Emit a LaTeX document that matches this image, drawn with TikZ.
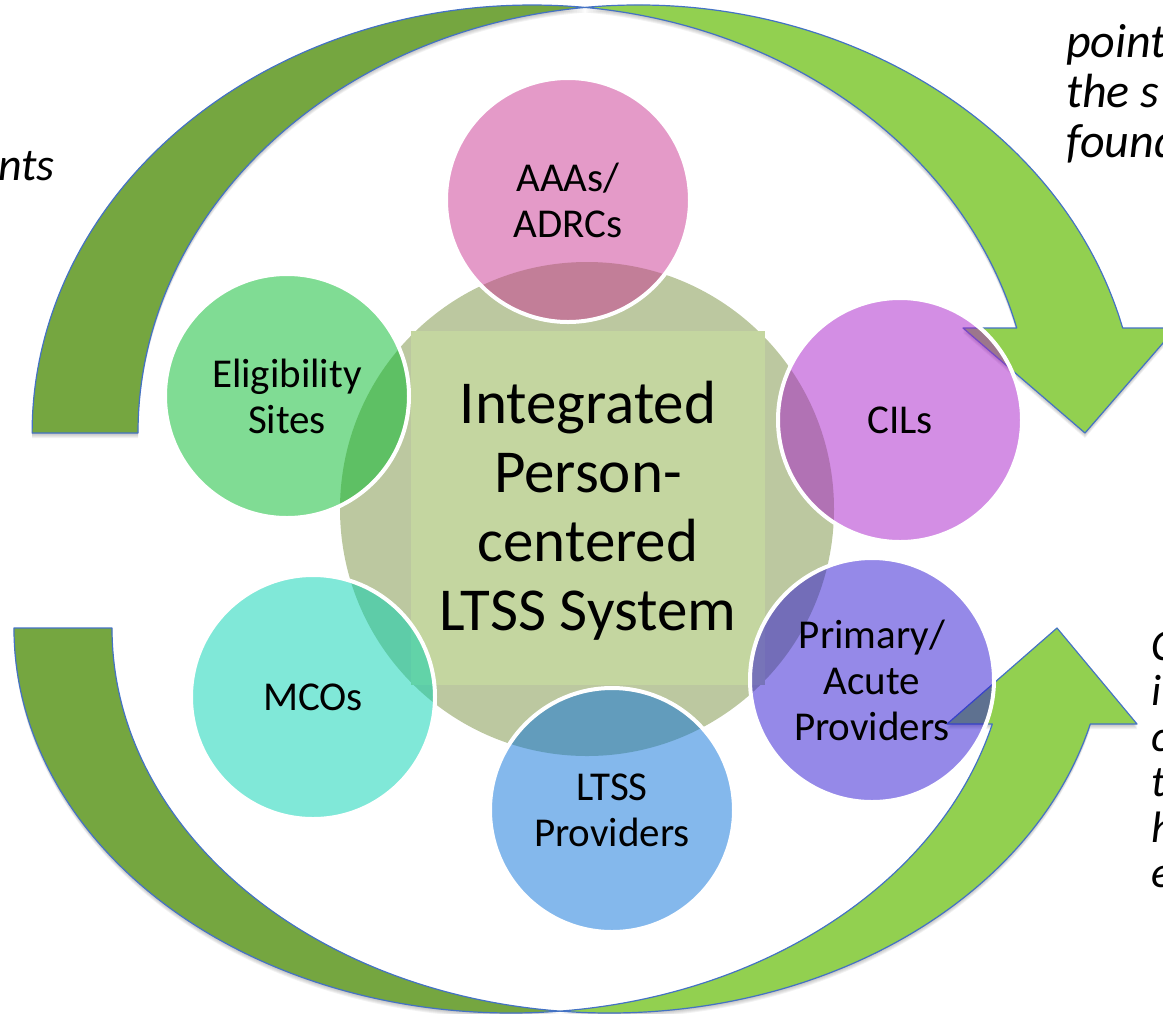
\documentclass[tikz,border=0pt]{standalone}
\usepackage{fontspec}
\setmainfont{Carlito}
\definecolor{armlight}{RGB}{146,208,80}
\definecolor{armdark}{RGB}{117,166,64}
\definecolor{armline}{RGB}{68,114,196}
\definecolor{hubcircle}{RGB}{188,200,160}
\definecolor{hubsquare}{RGB}{196,214,160}
\definecolor{cAAA}{RGB}{201,53,145}
\definecolor{cCIL}{RGB}{167,29,201}
\definecolor{cPRI}{RGB}{43,19,209}
\definecolor{cLTS}{RGB}{9,113,217}
\definecolor{cMCO}{RGB}{1,209,177}
\definecolor{cELI}{RGB}{1,185,41}
\begin{document}
\begin{tikzpicture}[x=1pt,y=-1pt,
  topdark/.style={insert path={(138,433) arc[start angle=180,end angle=263.92,x radius=500,y radius=428]
      arc[start angle=276.08,end angle=180,x radius=500,y radius=428] -- cycle}},
  toplight/.style={insert path={(585,7.4) arc[start angle=263.92,end angle=345.8,x radius=500,y radius=428]
      -- (1176,328) -- (1085,433) -- (963,328) -- (1016.7,328)
      arc[start angle=345.8,end angle=276.08,x radius=500,y radius=428] -- cycle}},
  botdark/.style={insert path={(112,628) arc[start angle=180,end angle=95.66,x radius=497,y radius=385]
      arc[start angle=84.34,end angle=180,x radius=497,y radius=385] -- cycle}},
  botlight/.style={insert path={(560,1011.1) arc[start angle=95.66,end angle=14.44,x radius=497,y radius=385]
      -- (1137,724) -- (1057,628) -- (947,724) -- (992.3,724)
      arc[start angle=14.44,end angle=84.34,x radius=497,y radius=385] -- cycle}},
  armedge/.style={draw=armline,line width=1.2pt,line join=round},
  shade/.style={fill=black,fill opacity=0.05},
  sat/.style={circle,minimum size=244pt,inner sep=0pt,draw=white,line width=4pt,
      fill opacity=0.5,text opacity=1,align=center,font=\fontsize{41}{46}\selectfont},
  side/.style={inner sep=0pt,align=left,font=\fontsize{48}{50}\selectfont\itshape}
]
\useasboundingbox (0,0) rectangle (1163,1013);
\clip (0,0) rectangle (1163,1013);
% shadows of the arrows
\foreach \k in {1,2,3,4,5}{
  \path[shade,shift={(0,\k)},toplight];
  \path[shade,shift={(0,\k)},topdark];
  \path[shade,shift={(0,\k)},botlight];
  \path[shade,shift={(0,\k)},botdark];
}
% arrows
\path[fill=armlight,armedge,toplight];
\path[fill=armdark,armedge,topdark];
\path[fill=armlight,armedge,botlight];
\path[fill=armdark,armedge,botdark];
% hub
\node[circle,minimum size=494pt,inner sep=0pt,fill=hubcircle] (hub) at (587,509) {};
\node[rectangle,minimum size=354pt,inner sep=0pt,fill=hubsquare] (core) at (588,508) {};
\node[align=center,inner sep=0pt,font=\fontsize{61}{69}\selectfont] (coretext) at (588,511)
      {Integrated\\Person-\\centered\\LTSS System};
% satellites
\node[sat,fill=cAAA] (aaa) at (568,200) {AAAs/\\ADRCs};
\node[sat,fill=cCIL] (cil) at (900,420) {CILs};
\node[sat,fill=cPRI] (pri) at (872,680) {Primary/\\Acute\\Providers};
\node[sat,fill=cLTS] (lts) at (612,810) {LTSS\\Providers};
\node[sat,fill=cMCO] (mco) at (313,697) {MCOs};
\node[sat,fill=cELI] (eli) at (287,396) {Eligibility\\Sites};
% side texts
\node[side,anchor=base east,font=\fontsize{46}{50}\selectfont\itshape] (lefttext) at (55,180) {nts};
\node[side,anchor=north west] (toptext) at (1066,22) {\strut point\\\strut the s\\\strut found};
\node[inner sep=0pt,align=left,font=\fontsize{44}{45.5}\selectfont\itshape,anchor=north west]
      (bottext) at (1151,628.2) {\strut C\\\strut i\\\strut c\\\strut t\\\strut h\\\strut e};
\end{tikzpicture}
\end{document}
